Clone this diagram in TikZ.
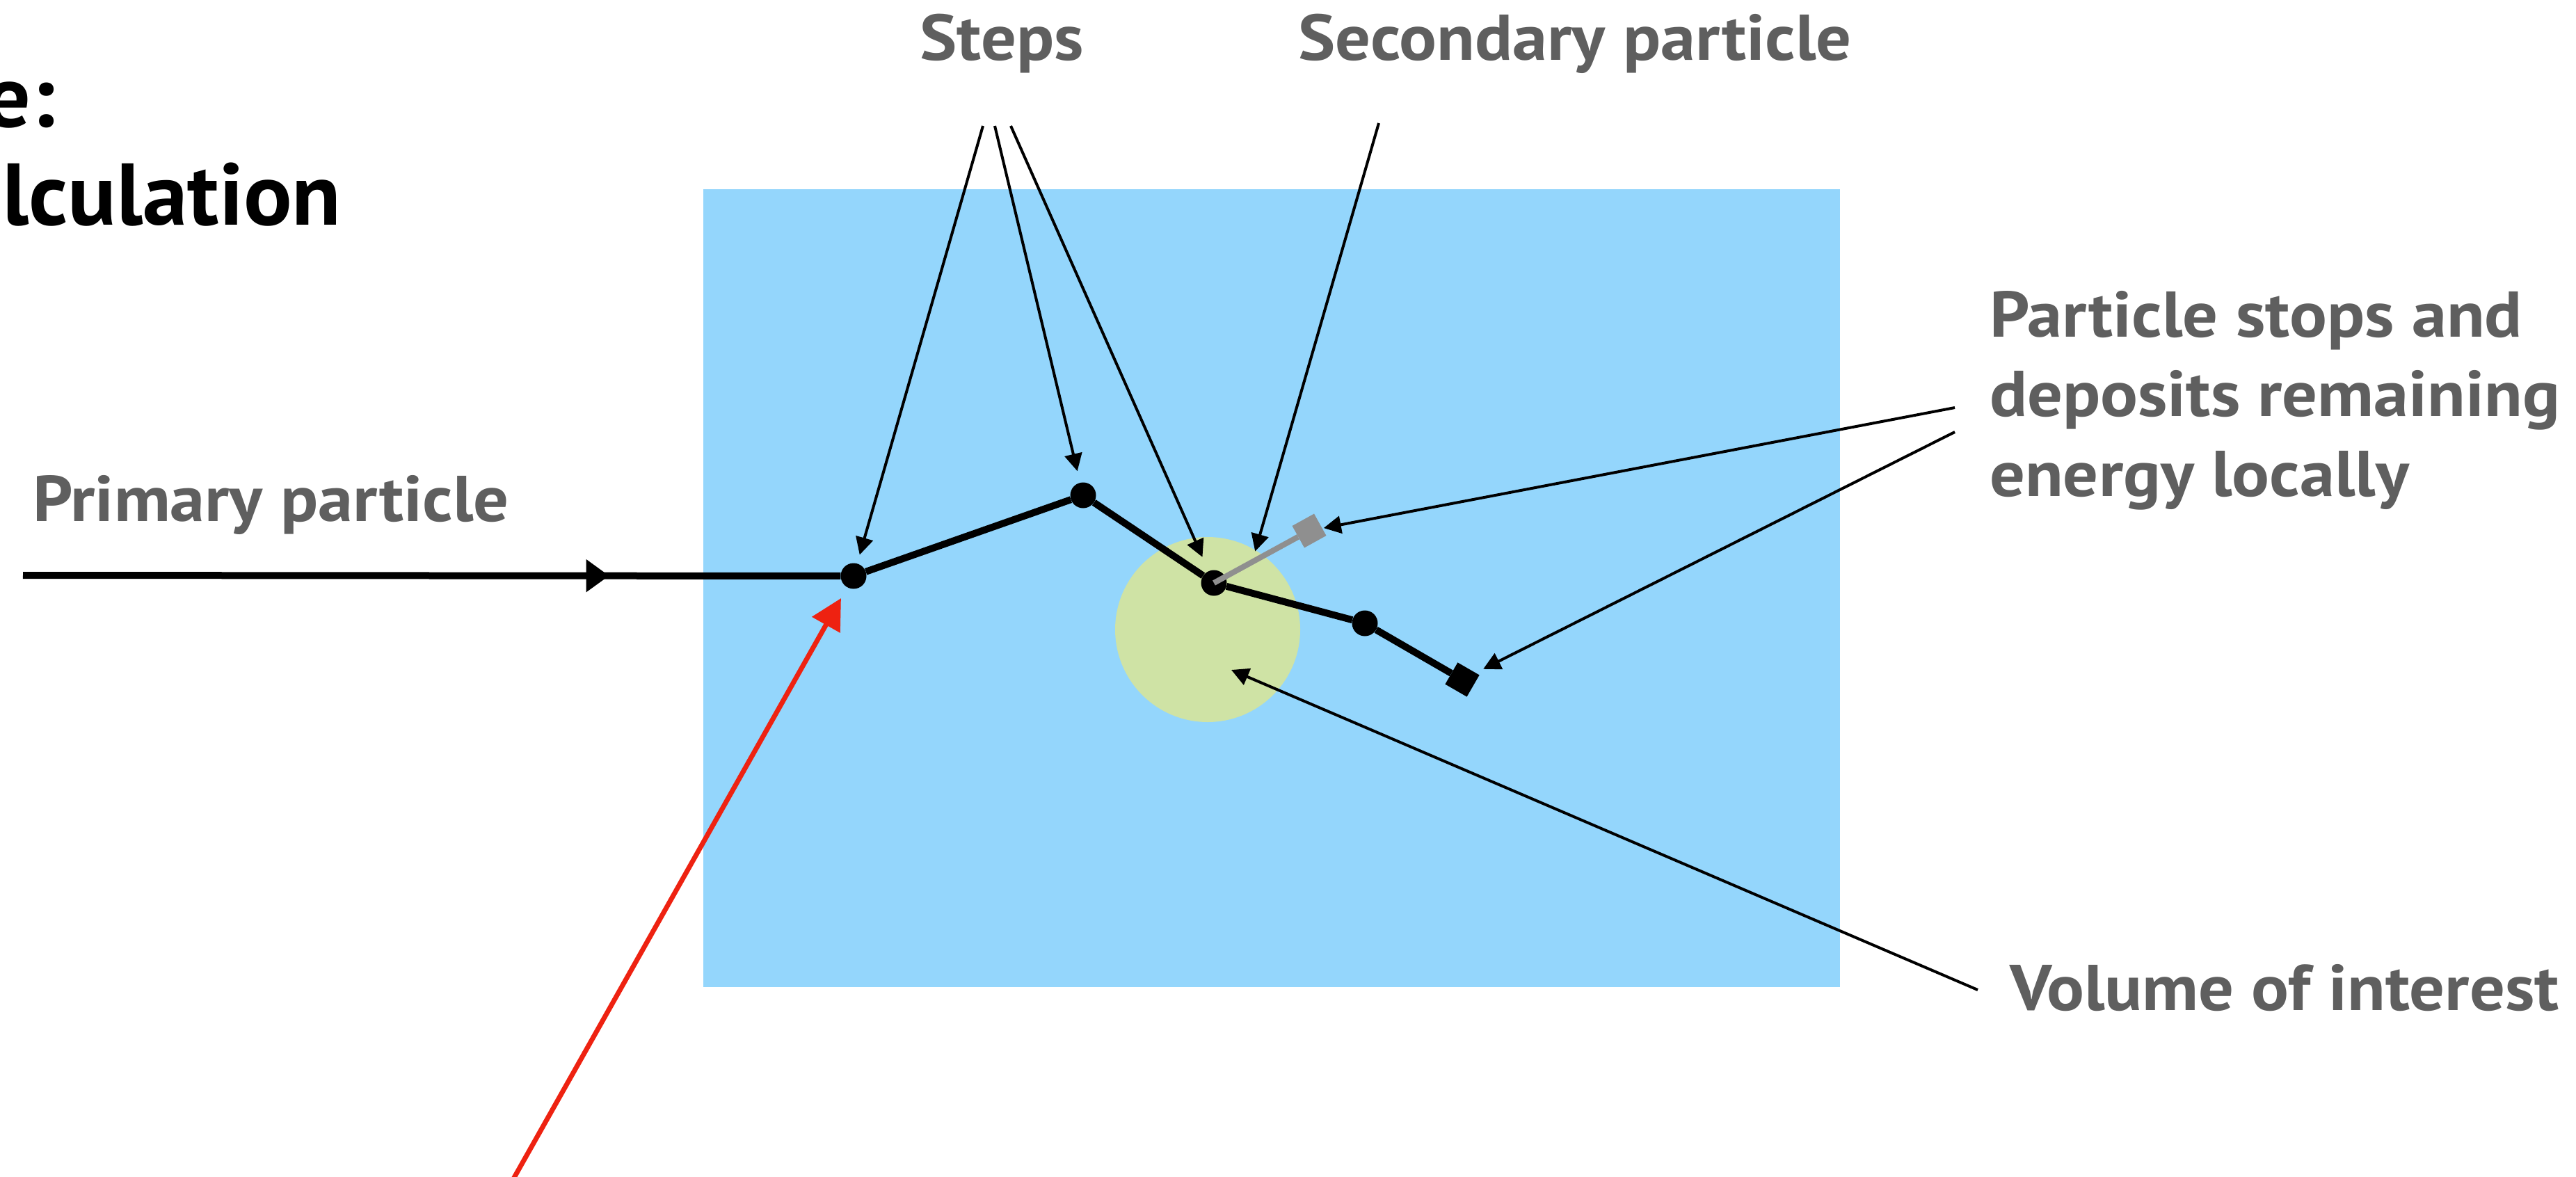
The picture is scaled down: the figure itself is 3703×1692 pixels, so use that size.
\documentclass[tikz,border=0pt]{standalone}
\usepackage{fontspec}
\setmainfont{PT Sans}
\newfontfamily\lblfont[FakeStretch=1.08]{PT Sans}
\newfontfamily\ttlfont[FakeStretch=1.03]{PT Sans}
\usetikzlibrary{arrows.meta,decorations.markings,calc}
\definecolor{volblue}{HTML}{94D6FC}
\definecolor{voigreen}{HTML}{CFE3A5}
\definecolor{labelgray}{HTML}{5F5F5F}
\definecolor{secgray}{HTML}{8F8F8F}
\definecolor{incred}{HTML}{EE2211}
\begin{document}
\begin{tikzpicture}[x=1pt,y=-1pt,
  lbl/.style={text=labelgray, font=\lblfont\bfseries\fontsize{93}{114.5}\selectfont, inner sep=0pt},
  ttl/.style={text=black, font=\ttlfont\bfseries\fontsize{126}{141}\selectfont, inner sep=0pt},
  dot/.style={circle, fill=black, inner sep=0pt, minimum size=37pt},
  stopsq/.style={rectangle, inner sep=0pt, minimum size=36pt},
  track/.style={line width=10pt, black},
  ann/.style={line width=4pt, black, -{Triangle[length=25pt,width=25pt]}},
  redarrow/.style={line width=7pt, incred, -{Triangle[length=44pt,width=45pt]}},
]
\useasboundingbox (0,0) rectangle (3703,1692);
% title fragment
\node[ttl, anchor=base east] (t1) at (80,182) {e:};
\node[ttl, anchor=base west] (t2) at (3,323) {lculation};
% volume
\node[fill=volblue, minimum width=1634pt, minimum height=1147pt, inner sep=0pt, anchor=north west] (box) at (1011,272) {};
\node[circle, fill=voigreen, minimum size=266pt, inner sep=0pt] (voi) at (1736,905) {};
% points
\node[dot] (p1) at (1227,828) {};
\node[dot] (p2) at (1557,712) {};
\node[dot] (p3) at (1745,838) {};
\node[dot] (p4) at (1962,896) {};
\node[stopsq, fill=black, rotate=-30] (stop) at (2102,977) {};
\node[stopsq, fill=secgray, rotate=29] (gsq) at (1882,763) {};
% primary
\coordinate (start) at (33,827);
\draw[track, postaction={decorate}, decoration={markings, mark=at position 0.717 with {\arrow{Triangle[length=33pt,width=45pt]}}}] (start) -- (p1);
\draw[track, line join=round] (p1) -- (p2) -- (p3) -- (p4) -- (stop);
\draw[line width=8pt, secgray] (p3.center) -- (gsq);
% incoming red
\coordinate (rstart) at (735,1700);
\draw[redarrow, shorten >=18pt] (rstart) -- (p1);
% labels
\node[lbl, anchor=base] (steps) at (1440,86) {Steps};
\node[lbl, anchor=base] (second) at (2264,86) {Secondary particle};
\node[lbl, anchor=base west] (primary) at (47,749) {Primary particle};
\node[lbl, anchor=base west, align=left] (stops) at (2860,713) {Particle stops and\\deposits remaining\\energy locally};
\node[lbl, anchor=base west] (volume) at (2889,1452) {Volume of interest};
% annotation arrows
\coordinate (s1) at (1413,181);
\coordinate (s2) at (1430,181);
\coordinate (s3) at (1453,181);
\coordinate (s4) at (1982,177);
\coordinate (s5) at (2810,586);
\coordinate (s6) at (2810,621);
\coordinate (s7) at (2843,1423);
\coordinate (sm) at ($(p3)!0.4!(gsq)$);
\coordinate (vt) at (1770,963);
\draw[ann, shorten >=13pt] (s1) -- (p1);
\draw[ann, shorten >=17pt] (s2) -- (p2);
\draw[ann, shorten >=22pt] (s3) -- (p3);
\draw[ann, shorten >=16pt] (s4) -- (sm);
\draw[ann, shorten >=2pt] (s5) -- (gsq);
\draw[ann, shorten >=12pt] (s6) -- (stop);
\draw[ann] (s7) -- (vt);
\end{tikzpicture}
\end{document}
